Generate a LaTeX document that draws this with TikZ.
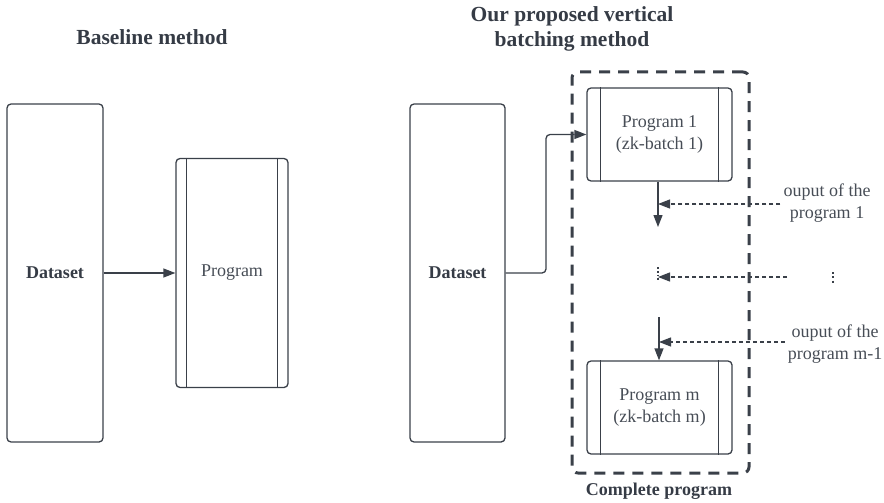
\documentclass[tikz,border=0pt]{standalone}
\usepackage{fontspec}
\setmainfont{Liberation Serif}
\usetikzlibrary{arrows.meta,calc}
\definecolor{ink}{HTML}{3A4049}
\definecolor{txt}{HTML}{474D56}
\definecolor{ttl}{HTML}{353B45}
\tikzset{
  box/.style={draw=ink, line width=1.3pt, rounded corners=4pt, inner sep=0pt, align=center, text=txt, font=\fontsize{18}{21.5}\selectfont},
  arr/.style={draw=ink, line width=1.3pt, -{Triangle[length=12pt,width=9pt]}},
  dasharr/.style={draw=ink, line width=1.2pt, dash pattern=on 4pt off 3pt, -{Triangle[length=12pt,width=9pt]}},
  lbl/.style={text=txt, align=center, font=\fontsize{18}{21.5}\selectfont, inner sep=3pt},
  title/.style={text=ttl, align=center, font=\fontsize{21.5}{25}\selectfont\bfseries},
}
\begin{document}
\begin{tikzpicture}[x=1pt,y=-1pt]
\useasboundingbox (0,0) rectangle (884,503);
% titles
\node[title] (t1) at (152,37) {Baseline method};
\node[title] (t2) at (572,29) {Our proposed vertical\\batching method};
% baseline
\node[box, minimum width=96pt, minimum height=338pt, font=\fontsize{18}{21.5}\selectfont\bfseries, text=ttl] (dsL) at (55,273) {Dataset};
\node[box, minimum width=112pt, minimum height=229pt] (prog) at (232,273) {Program};
\draw[ink, line width=1.3pt] ($(prog.north west)+(11pt,0)$) -- ($(prog.south west)+(11pt,0)$);
\draw[ink, line width=1.3pt] ($(prog.north east)+(-11pt,0)$) -- ($(prog.south east)+(-11pt,0)$);
\draw[arr] (dsL.east) -- (prog.west);
% proposed
\node[box, minimum width=95pt, minimum height=338pt, font=\fontsize{18}{21.5}\selectfont\bfseries, text=ttl] (dsR) at (457.5,273) {Dataset};
\node[draw=ink, line width=3pt, dash pattern=on 11pt off 8pt, rounded corners=6pt, minimum width=177pt, minimum height=401pt, inner sep=0pt] (cont) at (660.5,272.5) {};
\node[title, font=\fontsize{18}{21.5}\selectfont\bfseries] (t3) at (659,491) {Complete program};
\node[box, minimum width=145pt, minimum height=93pt] (p1) at (659.5,134.5) {Program 1\\(zk-batch 1)};
\node[box, minimum width=145pt, minimum height=93pt] (pm) at (659.5,407.5) {Program m\\(zk-batch m)};
\foreach \n in {p1,pm}{
  \draw[ink, line width=1.3pt] ($(\n.north west)+(14pt,0)$) -- ($(\n.south west)+(14pt,0)$);
  \draw[ink, line width=1.3pt] ($(\n.north east)+(-14pt,0)$) -- ($(\n.south east)+(-14pt,0)$);
}
\coordinate (bend) at (546,134.5);
\draw[arr, rounded corners=4pt] (dsR.east) -| (bend) -- (p1.west);
% vertical flow
\coordinate (a1) at (658,227);
\draw[arr] (p1.south -| a1) -- (a1);
\coordinate (a2) at (659,317);
\draw[arr] (a2) -- (pm.north -| a2);
\coordinate (m1) at (658,267);
\coordinate (m2) at (658,280);
\draw[ink, line width=1.8pt, dash pattern=on 1.8pt off 2pt] (m1) -- (m2);
% labels and dashed inputs
\node[lbl] (o1) at (827,203) {ouput of the\\program 1};
\draw[dasharr] (o1.west |- 0,204) -- (a1 |- 0,204);
\node[lbl] (o2) at (835,344) {ouput of the\\program m-1};
\draw[dasharr] (o2.west |- 0,342) -- (a2 |- 0,342);
\coordinate (dstart) at (787,277);
\draw[dasharr] (dstart) -- (m1 |- dstart);
\draw[ink, line width=2pt, dash pattern=on 2pt off 2.3pt] (833,272) -- (833,284);
\end{tikzpicture}
\end{document}
